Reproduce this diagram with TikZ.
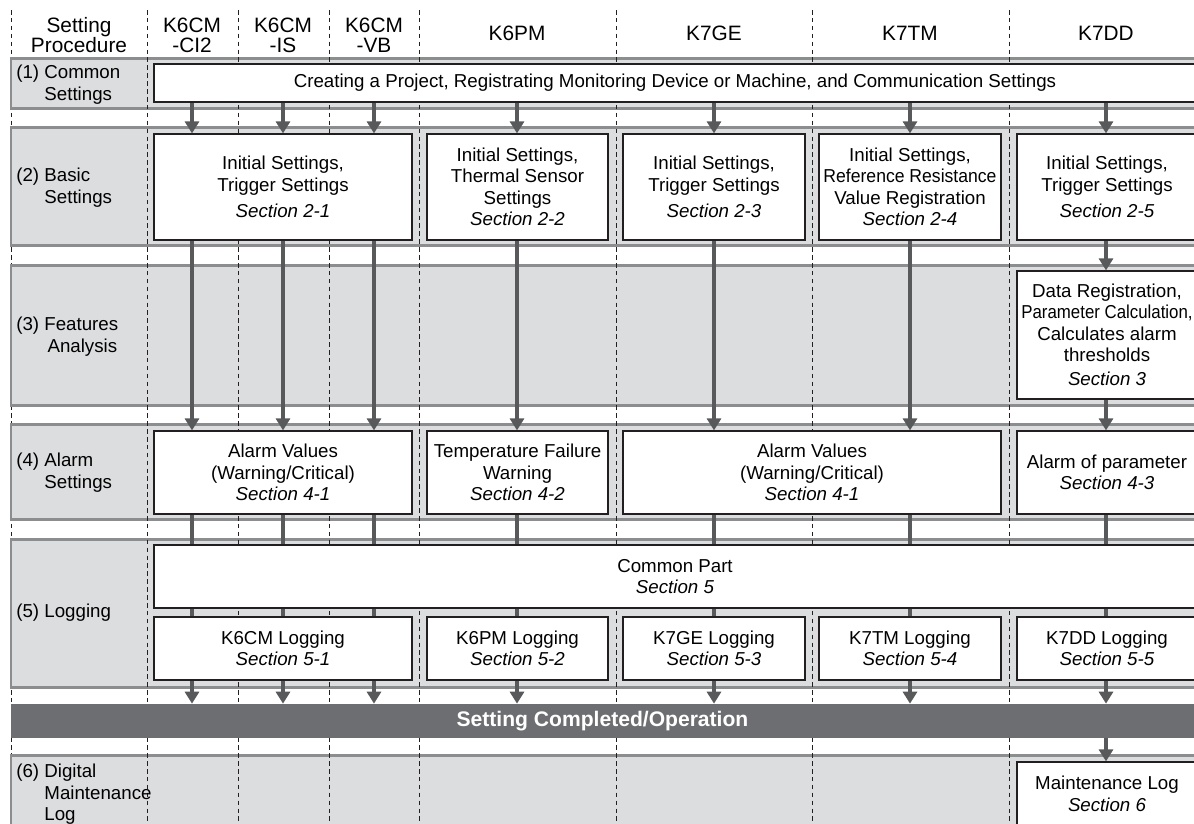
\documentclass[tikz,border=0pt]{standalone}
\usepackage{fontspec}
\setmainfont{Liberation Sans}
\usetikzlibrary{arrows.meta}
\usepackage{xcolor}

\definecolor{bandfill}{HTML}{DCDDDF}
\definecolor{bandline}{HTML}{8C8D8F}
\definecolor{flowgray}{HTML}{58595B}
\definecolor{bargray}{HTML}{6D6E71}
\definecolor{boxline}{HTML}{231F20}

\newcommand\boxfont{\fontsize{10.65}{12.2}\selectfont}
\newcommand\headfont{\fontsize{11.85}{11.4}\selectfont}
\newcommand\secref[1]{\textit{Section #1}}

\tikzset{
  band/.style={fill=bandfill, draw=bandline, line width=1.7pt},
  colline/.style={draw=boxline, line width=0.55pt, dash pattern=on 2.6pt off 1.9pt},
  stepbox/.style={draw=boxline, line width=0.7pt, fill=white, align=center,
    inner sep=0pt, font=\boxfont},
  headlab/.style={align=center, inner sep=0pt, font=\headfont},
  rowlab/.style={anchor=west, inner sep=0pt, font=\boxfont},
  flow/.style={draw=flowgray, line width=2.27pt},
  flowarr/.style={flow, -{Triangle[width=0.28cm,length=0.24cm]}},
}

\begin{document}
\begin{tikzpicture}[x=0.02cm, y=-0.02cm]
  \useasboundingbox (0,0) rectangle (1194,823);
  \clip (0,0) rectangle (1194,823);

  % columns x of the flows
  \coordinate (xa) at (192,0);
  \coordinate (xb) at (283,0);
  \coordinate (xc) at (374,0);
  \coordinate (xd) at (517,0);
  \coordinate (xe) at (714,0);
  \coordinate (xf) at (910,0);
  \coordinate (xg) at (1106,0);

  % rows and column lines
  \draw[colline] (11,10) -- (11,830);
  \foreach \top/\bot in {58/108, 127/245, 265/405, 424/519, 539/687, 755/850}
    \draw[band] (11,\top) rectangle (1215,\bot);
  \foreach \x in {147,238,329,419,616,812,1009}
    \draw[colline] (\x,10) -- (\x,830);

  % header
  \node[headlab] (hproc) at (79,35) {Setting\\Procedure};
  \node[headlab] (hcia) at (192,35) {K6CM\\-CI2};
  \node[headlab] (hcis) at (283,35) {K6CM\\-IS};
  \node[headlab] (hcvb) at (374,35) {K6CM\\-VB};
  \node[headlab] (hpm) at (517,33) {K6PM};
  \node[headlab] (hge) at (714,33) {K7GE};
  \node[headlab] (htm) at (910,33) {K7TM};
  \node[headlab] (hdd) at (1106,33) {K7DD};

  % row labels
  \node[rowlab] (lab1) at (16,85) {\begin{tabular}{@{}l@{ }l@{}}(1)&Common\\&Settings\end{tabular}};
  \node[rowlab] (lab2) at (16,188) {\begin{tabular}{@{}l@{ }l@{}}(2)&Basic\\&Settings\end{tabular}};
  \node[rowlab] (lab3) at (16,337) {\begin{tabular}{@{}l@{ }l@{}}(3)&Features\\&\,Analysis\end{tabular}};
  \node[rowlab] (lab4) at (16,473) {\begin{tabular}{@{}l@{ }l@{}}(4)&Alarm\\&Settings\end{tabular}};
  \node[rowlab] (lab5) at (16,613) {(5) Logging};
  \node[rowlab] (lab6) at (16,795) {\begin{tabular}{@{}l@{ }l@{}}(6)&Digital\\&Maintenance\\&Log\end{tabular}};

  % (1)
  \node[stepbox, minimum width=20.84cm, minimum height=0.76cm] (c1) at (675,83)
    {Creating a Project, Registrating Monitoring Device or Machine, and Communication Settings};

  % (2)
  \node[stepbox, minimum width=5.16cm, minimum height=2.12cm] (b2cm) at (283,187)
    {Initial Settings,\\Trigger Settings\\[3pt]\secref{2-1}};
  \node[stepbox, minimum width=3.62cm, minimum height=2.12cm] (b2pm) at (517.5,187)
    {Initial Settings,\\Thermal Sensor\\Settings\\\secref{2-2}};
  \node[stepbox, minimum width=3.64cm, minimum height=2.12cm] (b2ge) at (714,187)
    {Initial Settings,\\Trigger Settings\\[3pt]\secref{2-3}};
  \node[stepbox, minimum width=3.64cm, minimum height=2.12cm] (b2tm) at (910,187)
    {Initial Settings,\\\scalebox{0.94}[1]{Reference Resistance}\\Value Registration\\\secref{2-4}};
  \node[stepbox, minimum width=3.6cm, minimum height=2.12cm] (b2dd) at (1107,187)
    {Initial Settings,\\Trigger Settings\\[3pt]\secref{2-5}};

  % (3)
  \node[stepbox, minimum width=3.6cm, minimum height=2.56cm] (b3dd) at (1107,335)
    {Data Registration,\\\scalebox{0.9}[1]{Parameter Calculation,}\\Calculates alarm\\thresholds\\[1.5pt]\secref{3}};

  % (4)
  \node[stepbox, minimum width=5.16cm, minimum height=1.66cm] (b4cm) at (283,472.5)
    {Alarm Values\\(Warning/Critical)\\\secref{4-1}};
  \node[stepbox, minimum width=3.62cm, minimum height=1.66cm] (b4pm) at (517.5,472.5)
    {Temperature Failure\\Warning\\\secref{4-2}};
  \node[stepbox, minimum width=7.56cm, minimum height=1.66cm] (b4gt) at (812,472.5)
    {Alarm Values\\(Warning/Critical)\\\secref{4-1}};
  \node[stepbox, minimum width=3.6cm, minimum height=1.66cm] (b4dd) at (1107,472.5)
    {Alarm of parameter\\\secref{4-3}};

  % (5)
  \node[stepbox, minimum width=20.84cm, minimum height=1.26cm] (c5) at (675,576.5)
    {Common Part\\\secref{5}};
  \node[stepbox, minimum width=5.16cm, minimum height=1.26cm] (b5cm) at (283,648.5)
    {K6CM Logging\\\secref{5-1}};
  \node[stepbox, minimum width=3.62cm, minimum height=1.26cm] (b5pm) at (517.5,648.5)
    {K6PM Logging\\\secref{5-2}};
  \node[stepbox, minimum width=3.64cm, minimum height=1.26cm] (b5ge) at (714,648.5)
    {K7GE Logging\\\secref{5-3}};
  \node[stepbox, minimum width=3.64cm, minimum height=1.26cm] (b5tm) at (910,648.5)
    {K7TM Logging\\\secref{5-4}};
  \node[stepbox, minimum width=3.6cm, minimum height=1.26cm] (b5dd) at (1107,648.5)
    {K7DD Logging\\\secref{5-5}};

  % completed bar
  \node[fill=bargray, text=white, inner sep=0pt, minimum width=23.66cm, minimum height=0.68cm,
    font=\fontsize{12}{14}\selectfont\bfseries] (done) at (602.5,721) {Setting Completed/Operation};

  % (6)
  \node[stepbox, minimum width=3.6cm, minimum height=1.28cm] (mlog) at (1107,794)
    {Maintenance Log\\\secref{6}};

  % flows
  \foreach \c/\a/\b in {xa/c1/b2cm, xb/c1/b2cm, xc/c1/b2cm, xd/c1/b2pm, xe/c1/b2ge, xf/c1/b2tm, xg/c1/b2dd,
      xa/b2cm/b4cm, xb/b2cm/b4cm, xc/b2cm/b4cm, xd/b2pm/b4pm, xe/b2ge/b4gt, xf/b2tm/b4gt,
      xg/b2dd/b3dd, xg/b3dd/b4dd,
      xa/b5cm/done, xb/b5cm/done, xc/b5cm/done, xd/b5pm/done, xe/b5ge/done, xf/b5tm/done, xg/b5dd/done,
      xg/done/mlog}
    \draw[flowarr] (\a.south -| \c) -- (\b.north -| \c);
  \foreach \c/\a/\b in {xa/b4cm/b5cm, xb/b4cm/b5cm, xc/b4cm/b5cm, xd/b4pm/b5pm, xe/b4gt/b5ge,
      xf/b4gt/b5tm, xg/b4dd/b5dd}
  {
    \draw[flow] (\a.south -| \c) -- (c5.north -| \c);
    \draw[flow] (c5.south -| \c) -- (\b.north -| \c);
  }
\end{tikzpicture}
\end{document}
